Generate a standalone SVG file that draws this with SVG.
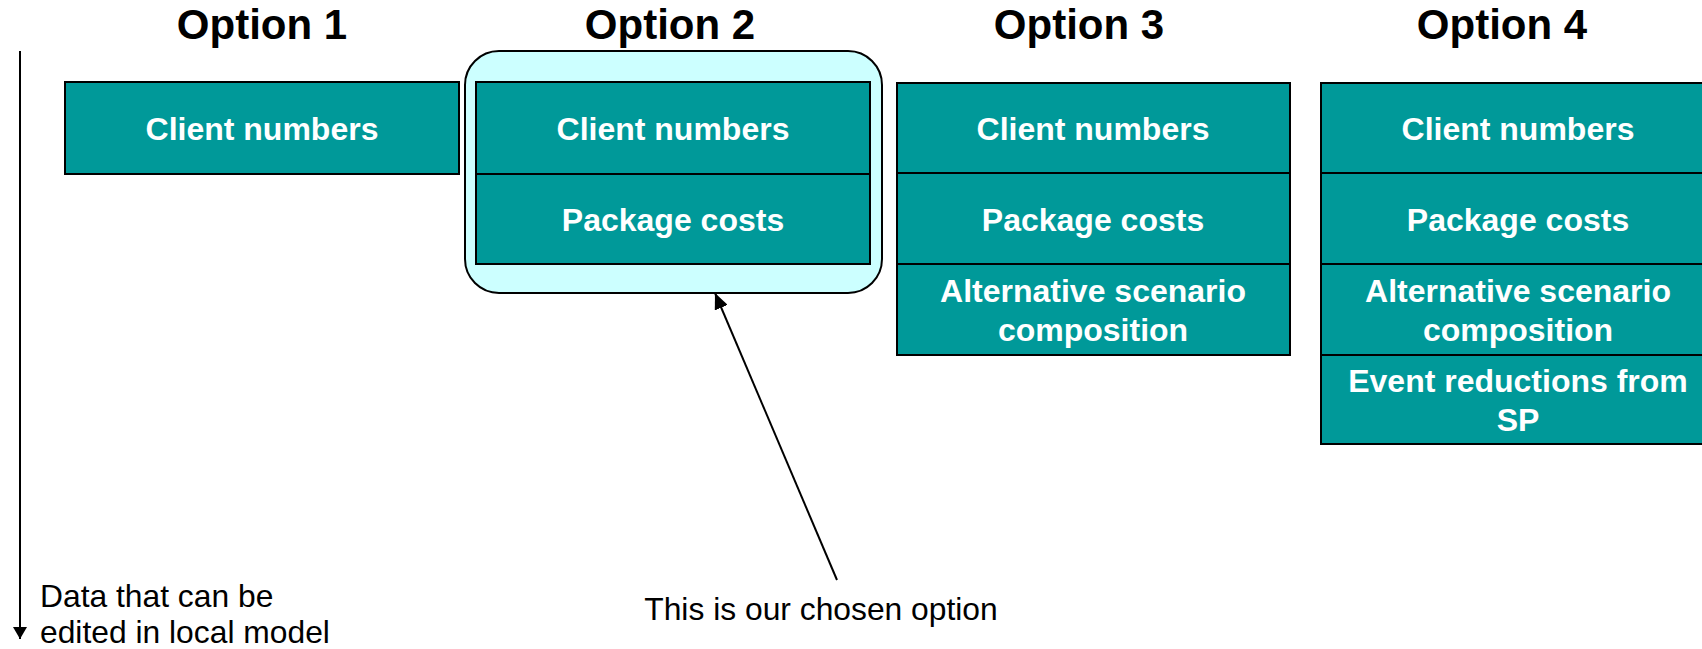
<svg xmlns="http://www.w3.org/2000/svg" width="1702" height="649" viewBox="0 0 1702 649">
<style>
.title{font-family:"Liberation Sans",Arial,sans-serif;font-weight:bold;font-size:42px;fill:#000;text-anchor:middle}
.cell{fill:#009999;stroke:#000;stroke-width:2}
.lbl{font-family:"Liberation Sans",Arial,sans-serif;font-weight:bold;font-size:32px;fill:#fff;text-anchor:middle}
.note{font-family:"Liberation Sans",Arial,sans-serif;font-size:31.8px;fill:#000}
.ln{stroke:#000;stroke-width:2;fill:none}
</style>
<defs>
<marker id="ah2" viewBox="0 0 16 14" refX="16" refY="7" markerWidth="16" markerHeight="14" markerUnits="userSpaceOnUse" orient="auto">
<path d="M0,0 L16,7 L0,14 z" fill="#000"/>
</marker>
<marker id="ah3" viewBox="0 0 12 14" refX="12" refY="7" markerWidth="12" markerHeight="14" markerUnits="userSpaceOnUse" orient="auto">
<path d="M0,0 L12,7 L0,14 z" fill="#000"/>
</marker>
</defs>
<rect width="1702" height="649" fill="#fff"/>
<g id="titles">
<text class="title" x="262" y="39">Option 1</text>
<text class="title" x="670" y="39">Option 2</text>
<text class="title" x="1079" y="39">Option 3</text>
<text class="title" x="1502" y="39">Option 4</text>
</g>
<g id="option1">
<rect class="cell" x="65" y="82" width="394" height="92"/>
<text class="lbl" x="262" y="140">Client numbers</text>
</g>
<g id="option2">
<rect x="465" y="51" width="417" height="242" rx="34" ry="34" fill="#CCFFFF" stroke="#000" stroke-width="2"/>
<rect class="cell" x="476" y="82" width="394" height="92"/>
<rect class="cell" x="476" y="174" width="394" height="90"/>
<text class="lbl" x="673" y="140">Client numbers</text>
<text class="lbl" x="673" y="231">Package costs</text>
</g>
<g id="option3">
<rect class="cell" x="897" y="83" width="393" height="90"/>
<rect class="cell" x="897" y="173" width="393" height="91"/>
<rect class="cell" x="897" y="264" width="393" height="91"/>
<text class="lbl" x="1093" y="140">Client numbers</text>
<text class="lbl" x="1093" y="231">Package costs</text>
<text class="lbl" x="1093" y="302">Alternative scenario</text>
<text class="lbl" x="1093" y="341">composition</text>
</g>
<g id="option4">
<rect class="cell" x="1321" y="83" width="394" height="90"/>
<rect class="cell" x="1321" y="173" width="394" height="91"/>
<rect class="cell" x="1321" y="264" width="394" height="91"/>
<rect class="cell" x="1321" y="355" width="394" height="89"/>
<text class="lbl" x="1518" y="140">Client numbers</text>
<text class="lbl" x="1518" y="231">Package costs</text>
<text class="lbl" x="1518" y="302">Alternative scenario</text>
<text class="lbl" x="1518" y="341">composition</text>
<text class="lbl" x="1518" y="392">Event reductions from</text>
<text class="lbl" x="1518" y="431">SP</text>
</g>
<g id="connectors">
<line class="ln" x1="20" y1="51" x2="20" y2="639" marker-end="url(#ah3)"/>
<line class="ln" x1="837" y1="580" x2="715" y2="293" marker-end="url(#ah2)"/>
</g>
<g id="notes">
<text class="note" x="40" y="607">Data that can be</text>
<text class="note" x="40" y="643">edited in local model</text>
<text class="note" x="821" y="620" text-anchor="middle">This is our chosen option</text>
</g>
</svg>
